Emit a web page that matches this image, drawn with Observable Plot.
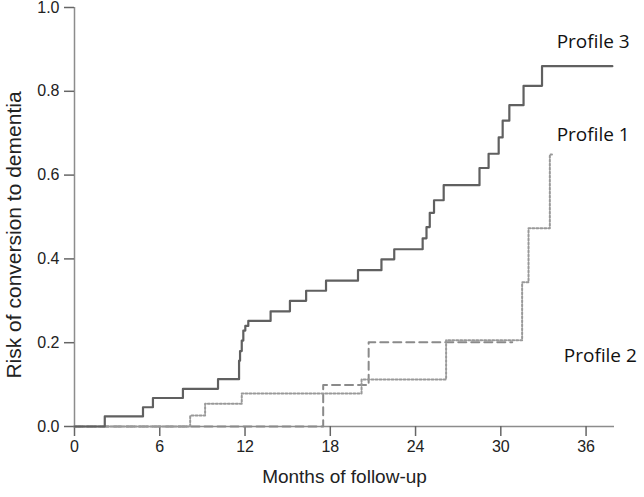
<!DOCTYPE html>
<html>
<head>
<meta charset="utf-8">
<script src="https://cdn.jsdelivr.net/npm/d3@7"></script>
<script src="https://cdn.jsdelivr.net/npm/@observablehq/plot@0.6"></script>
<style>
  html, body { margin: 0; padding: 0; background: #fff; }
  #chart svg { display: block; }
</style>
</head>
<body>
<div id="chart"></div>
<script>
// Kaplan–Meier style cumulative risk curves (months, risk)
const profile3Months = [0, 2.13, 4.82, 5.52, 7.63, 10.1, 11.58, 11.65, 11.77, 11.88, 12.02, 12.23, 13.8, 15.16, 16.3, 17.7, 19.95, 21.6, 22.5, 24.5, 24.77, 25.0, 25.3, 25.98, 28.5, 29.14, 29.85, 30.13, 30.6, 31.6, 32.9, 37.85];
const profile3Risk   = [0, 0.024, 0.046, 0.068, 0.090, 0.113, 0.157, 0.180, 0.205, 0.229, 0.240, 0.252, 0.275, 0.300, 0.324, 0.348, 0.373, 0.399, 0.423, 0.449, 0.476, 0.510, 0.540, 0.576, 0.617, 0.651, 0.690, 0.730, 0.767, 0.813, 0.860, 0.860];

const profile1Months = [0, 8.14, 9.19, 11.77, 20.2, 26.15, 31.5, 31.95, 33.45, 33.6];
const profile1Risk   = [0, 0.026, 0.054, 0.079, 0.112, 0.206, 0.344, 0.473, 0.649, 0.649];

const profile2Months = [0, 17.5, 20.7, 30.8];
const profile2Risk   = [0, 0.099, 0.201, 0.201];

const xTicks = [0, 6, 12, 18, 24, 30, 36];
const yTicks = [0, 0.2, 0.4, 0.6, 0.8, 1.0];

const seriesNames = ["Profile 3", "Profile 1", "Profile 2"];
const labelMonths = [36.5, 36.5, 37.0];
const labelRisk   = [0.917, 0.695, 0.169];

const toRows = (months, risk) => months.map((m, i) => ({month: m, risk: risk[i]}));
const p3 = toRows(profile3Months, profile3Risk);
const p1 = toRows(profile1Months, profile1Risk);
const p2 = toRows(profile2Months, profile2Risk);
const labels = seriesNames.map((name, i) => ({name, month: labelMonths[i], risk: labelRisk[i]}));

const chart = Plot.plot({
  width: 644,
  height: 497,
  marginLeft: 74,
  marginRight: 30,
  marginTop: 7,
  marginBottom: 71,
  style: {fontFamily: "'Liberation Sans', Arial, sans-serif", background: "#fff", color: "#222", overflow: "visible"},
  x: {domain: [0, 38]},
  y: {domain: [0, 1]},
  marks: [
    Plot.ruleX([0], {stroke: "#8c8c8c", strokeWidth: 1.5}),
    Plot.ruleY([0], {stroke: "#8c8c8c", strokeWidth: 1.5}),
    Plot.axisX({ticks: xTicks, tickSize: 10, tickPadding: 4, stroke: "#666", strokeWidth: 1.5,
      fontSize: 16, fill: "#222", tickFormat: d => String(d), label: null}),
    Plot.axisY({ticks: yTicks, tickSize: 10, tickPadding: 5, stroke: "#666", strokeWidth: 1.5,
      fontSize: 16, fill: "#222", tickFormat: d3.format(".1f"), label: null}),
    Plot.line(p2, {x: "month", y: "risk", curve: "step-after", stroke: "#8a8a8a", strokeWidth: 2, strokeDasharray: "8,5"}),
    Plot.line(p1, {x: "month", y: "risk", curve: "step-after", stroke: "#999", strokeWidth: 2, strokeDasharray: "2,2"}),
    Plot.line(p3, {x: "month", y: "risk", curve: "step-after", stroke: "#606060", strokeWidth: 2.2}),
    Plot.text(labels, {x: "month", y: "risk", text: "name", fontSize: 19, fill: "#111",
      fontFamily: "'Open Sans', sans-serif", textAnchor: "middle"}),
    Plot.text(["Months of follow-up"], {frameAnchor: "bottom", textAnchor: "middle", dy: 56, fontSize: 19, fill: "#222"}),
    Plot.text(["Risk of conversion to dementia"], {frameAnchor: "left", textAnchor: "middle", rotate: -90, dx: -60, dy: 18, fontSize: 21, fill: "#222"})
  ]
});
document.getElementById("chart").appendChild(chart);
</script>
</body>
</html>
